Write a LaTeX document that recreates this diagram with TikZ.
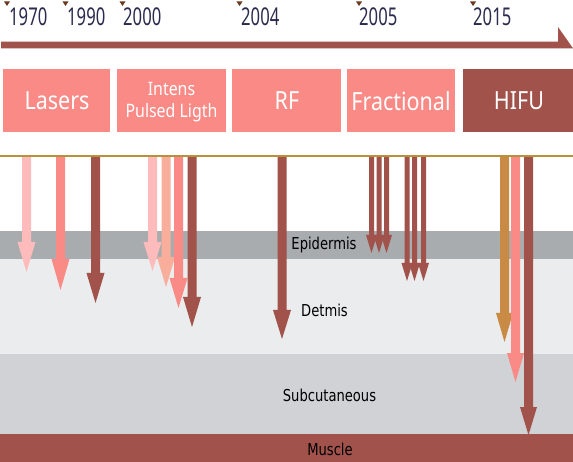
\documentclass[tikz,border=0pt]{standalone}
\usepackage{fontspec}
\setmainfont{Noto Sans}
\newfontfamily\labfont[FakeStretch=0.8]{DejaVu Sans}
\newfontfamily\boxfont[FakeStretch=0.86]{Noto Sans}
\newfontfamily\yearfont[FakeStretch=0.68]{Noto Sans}
\definecolor{dark}{HTML}{A0524B}
\definecolor{pinkb}{HTML}{F98A86}
\definecolor{lpink}{HTML}{FDBBBB}
\definecolor{salmon}{HTML}{F8AE9B}
\definecolor{orng}{HTML}{C98A45}
\definecolor{gold}{HTML}{B8923A}
\definecolor{epi}{HTML}{A9ACAF}
\definecolor{der}{HTML}{EBECEE}
\definecolor{sub}{HTML}{D1D2D5}
\definecolor{navy}{HTML}{2B2B4E}
\definecolor{mkc}{HTML}{6B3A1E}
\newcommand\skinarrow[6]{%
  \fill[#6] ({#1-#4/2},156.5) -- ({#1+#4/2},156.5) -- ({#1+#4/2},#2) -- ({#1+#5/2},#2) -- (#1,#3) -- ({#1-#5/2},#2) -- ({#1-#4/2},#2) -- cycle;}
\tikzset{
  yr/.style={anchor=base west, inner sep=0pt, text=navy, font=\yearfont\fontsize{24.5}{26}\selectfont},
  mk/.style={fill=mkc},
  tbox/.style={draw=none, inner sep=0pt, text=white, align=center, font=\boxfont\fontsize{25}{28}\selectfont},
  lab/.style={inner sep=0pt, text=black, font=\labfont\fontsize{16.4}{18}\selectfont},
}
\begin{document}
\begin{tikzpicture}[x=1pt,y=-1pt]
\useasboundingbox (0,0) rectangle (573,462);
\fill[white] (0,0) rectangle (573,462);
% layers
\fill[epi] (0,231) rectangle (573,259);
\fill[der] (0,259) rectangle (573,353.5);
\fill[sub] (0,353.5) rectangle (573,433.5);
\fill[dark] (0,433.5) rectangle (573,462);
\node[lab] (epid) at (324,245) {Epidermis};
\node[lab] (detm) at (324.5,310) {Detmis};
\node[lab] (subc) at (329.5,395) {Subcutaneous};
\node[lab] (musc) at (330,449) {Muscle};
% timeline bar
\fill[dark] (1,41.7) -- (558,41.7) -- (558,27) -- (573,48.3) -- (1,48.3) -- cycle;
% year markers and labels
\foreach \mx in {4,62.5,119.5,236.5,356,470}{\fill[mk] (\mx,1.5) -- ++(6,0) -- ++(-3,4.5) -- cycle;}
\node[yr] (y1970) at (9,26) {1970};
\node[yr] (y1990) at (67,26) {1990};
\node[yr] (y2000) at (123,26) {2000};
\node[yr] (y2004) at (241,26) {2004};
\node[yr] (y2005) at (359,26) {2005};
\node[yr] (y2015) at (473,26) {2015};
% boxes
\fill[pinkb] (3,69) rectangle (110,132);
\fill[pinkb] (117,69) rectangle (226,132);
\fill[pinkb] (232,69) rectangle (341,132);
\fill[pinkb] (347,69) rectangle (455,132);
\fill[dark] (463,69) rectangle (573,132);
\node[tbox] (lasers) at (57,101) {Lasers};
\node[tbox, font=\boxfont\fontsize{18.5}{22.5}\selectfont] (ipl) at (171.5,102) {Intens\\Pulsed Ligth};
\node[tbox] (rf) at (287,101) {RF};
\node[tbox] (frac) at (401,101) {Fractional};
\node[tbox] (hifu) at (519,101) {HIFU};
% arrows
\skinarrow{26.5}{242}{272}{9}{18}{lpink}
\skinarrow{60.5}{259}{290}{9}{18}{pinkb}
\skinarrow{95.5}{273}{303}{9}{18}{dark}
\skinarrow{152.5}{242}{271}{9}{18}{lpink}
\skinarrow{166}{257}{287}{9}{18}{salmon}
\skinarrow{178.5}{278}{308}{9}{18}{pinkb}
\skinarrow{192}{297}{327}{9}{18}{dark}
\skinarrow{282}{310}{339}{9}{18}{dark}
\skinarrow{371.5}{235}{253}{5}{11}{dark}
\skinarrow{379}{235}{253}{5}{11}{dark}
\skinarrow{386.5}{235}{253}{5}{11}{dark}
\skinarrow{407}{263}{281}{5}{11}{dark}
\skinarrow{414.5}{263}{281}{5}{11}{dark}
\skinarrow{423.5}{263}{281}{5}{11}{dark}
\skinarrow{504.5}{313}{342}{9}{17}{orng}
\skinarrow{515.5}{353}{382}{9}{17}{pinkb}
\skinarrow{528.5}{407}{435}{9}{17}{dark}
% surface line
\draw[gold, line width=1.3pt] (0,156) -- (573,156);
\end{tikzpicture}
\end{document}
